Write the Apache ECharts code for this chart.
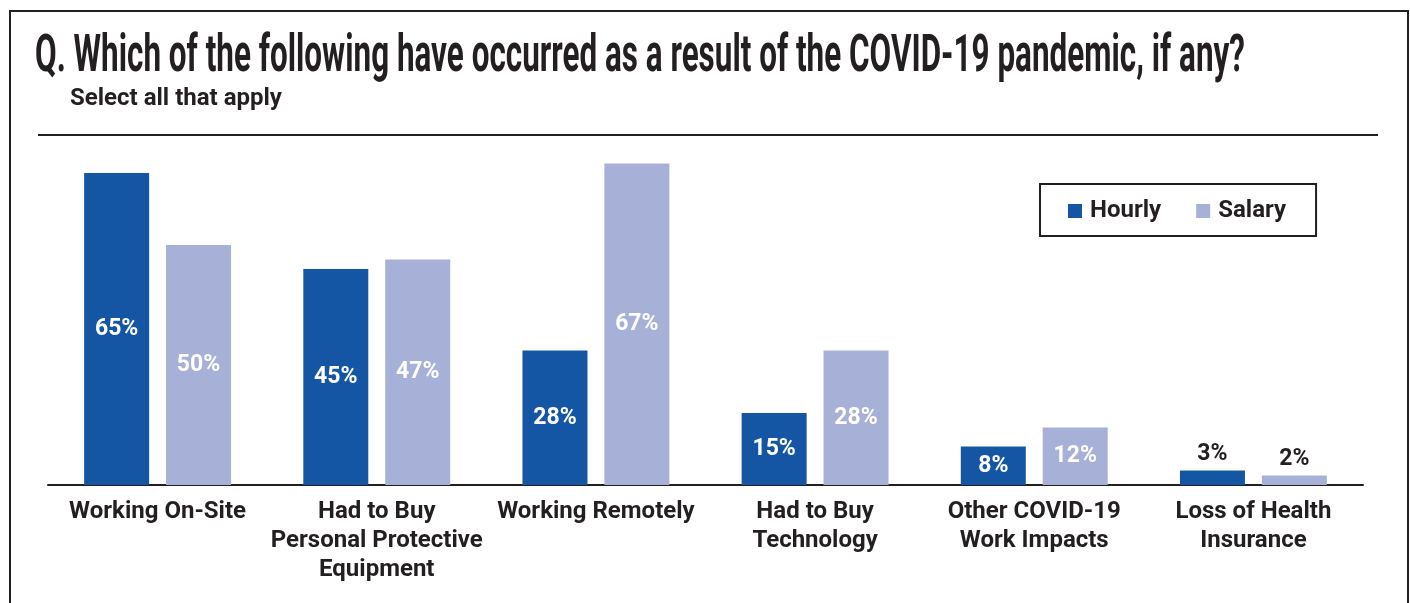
<!DOCTYPE html>
<html>
<head>
<meta charset="utf-8">
<script src="https://cdn.jsdelivr.net/npm/echarts@6/dist/echarts.min.js"></script>
<style>
  html, body { margin: 0; padding: 0; background: #fff; }
  #chart { width: 1410px; height: 603px; }
</style>
</head>
<body>
<div id="chart"></div>
<script>
// Survey question and response shares (%)
const titleText = 'Q. Which of the following have occurred as a result of the COVID-19 pandemic, if any?';
const subtitleText = 'Select all that apply';
const categories = [
  'Working On-Site',
  'Had to Buy\nPersonal Protective\nEquipment',
  'Working Remotely',
  'Had to Buy\nTechnology',
  'Other COVID-19\nWork Impacts',
  'Loss of Health\nInsurance'
];
const hourly = [65, 45, 28, 15, 8, 3];
const salary = [50, 47, 67, 28, 12, 2];

const INK = '#231f20';
const HOURLY_COLOR = '#1556a4';
const SALARY_COLOR = '#a7b1d7';

// Condensed headline: squeeze a bold face horizontally to the headline width
const TITLE_FAMILY = 'Roboto';
const TITLE_SIZE = 51;
const TITLE_WIDTH = 1210;
const measureCtx = document.createElement('canvas').getContext('2d');
measureCtx.font = 'bold ' + TITLE_SIZE + 'px ' + TITLE_FAMILY;
const titleScale = TITLE_WIDTH / measureCtx.measureText(titleText).width;

// Small bars get their label above the bar in dark ink
function toItems(values) {
  return values.map(v => v < 5
    ? { value: v, label: { position: 'top', color: INK, distance: 5 } }
    : { value: v });
}

const barLabel = {
  show: true,
  position: 'inside',
  formatter: '{c}%',
  color: '#fff',
  fontFamily: 'Roboto',
  fontWeight: 'bold',
  fontSize: 23
};

const chart = echarts.init(document.getElementById('chart'));
chart.setOption({
  animation: false,
  backgroundColor: '#fff',
  grid: { left: 48, right: 47, top: 149, bottom: 118, containLabel: false },
  legend: {
    left: 1040,
    top: 184,
    itemWidth: 14,
    itemHeight: 14,
    itemGap: 35,
    icon: 'rect',
    borderColor: INK,
    borderWidth: 2,
    padding: [15, 30, 13, 28],
    textStyle: {
      fontFamily: 'Roboto',
      fontWeight: 'bold',
      fontSize: 24,
      color: INK,
      padding: [0, 0, 0, 3]
    },
    data: ['Hourly', 'Salary']
  },
  xAxis: {
    type: 'category',
    data: categories,
    axisLine: { lineStyle: { color: INK, width: 2 } },
    axisTick: { show: false },
    axisLabel: {
      interval: 0,
      margin: 12,
      color: INK,
      fontFamily: 'Roboto',
      fontWeight: 'bold',
      fontSize: 24,
      lineHeight: 29
    }
  },
  yAxis: {
    type: 'value',
    min: 0,
    max: 70,
    show: false,
    splitLine: { show: false }
  },
  series: [
    {
      name: 'Hourly',
      type: 'bar',
      barWidth: 65,
      barGap: '26%',
      itemStyle: { color: HOURLY_COLOR },
      label: barLabel,
      data: toItems(hourly)
    },
    {
      name: 'Salary',
      type: 'bar',
      barWidth: 65,
      itemStyle: { color: SALARY_COLOR },
      label: barLabel,
      data: toItems(salary)
    }
  ],
  graphic: [
    {
      type: 'rect',
      shape: { x: 10, y: 11, width: 1398, height: 620 },
      style: { fill: null, stroke: INK, lineWidth: 2 },
      silent: true
    },
    {
      type: 'text',
      x: 35,
      y: 58,
      scaleX: titleScale,
      style: {
        text: titleText,
        fontFamily: TITLE_FAMILY,
        fontWeight: 'bold',
        fontSize: TITLE_SIZE,
        fill: INK,
        verticalAlign: 'middle'
      },
      silent: true
    },
    {
      type: 'text',
      x: 70,
      y: 99,
      style: {
        text: subtitleText,
        fontFamily: 'Roboto',
        fontWeight: 'bold',
        fontSize: 24,
        fill: INK,
        verticalAlign: 'middle'
      },
      silent: true
    },
    {
      type: 'line',
      shape: { x1: 38, y1: 135, x2: 1378, y2: 135 },
      style: { stroke: INK, lineWidth: 2 },
      silent: true
    }
  ]
});
</script>
</body>
</html>
